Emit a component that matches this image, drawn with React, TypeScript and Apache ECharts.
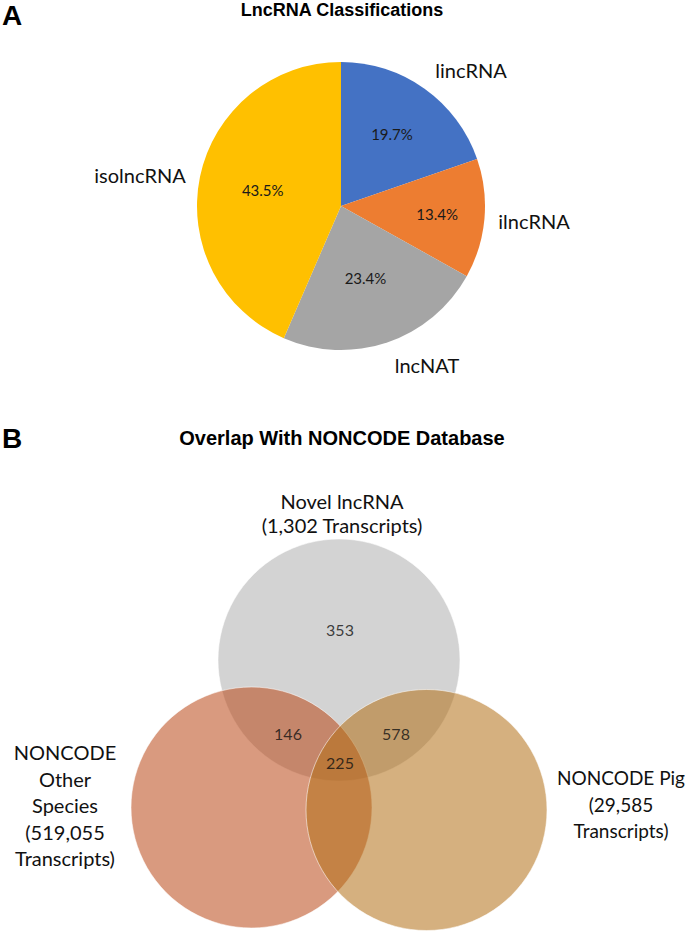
import React, { useEffect, useRef } from "react";
import * as echarts from "echarts";

// ---------- Data ----------
const pieCategories = ["lincRNA", "ilncRNA", "lncNAT", "isolncRNA"];
const piePercents = [19.7, 13.4, 23.4, 43.5];

const vennSetLabels = [
  "Novel lncRNA\n(1,302 Transcripts)",
  "NONCODE\nOther\nSpecies\n(519,055\nTranscripts)",
  "NONCODE Pig\n(29,585\nTranscripts)",
];
const vennRegionNames = ["Novel only", "Novel & Other", "Novel & Pig", "All three"];
const vennRegionCounts = [353, 146, 578, 225];

// ---------- Layout / style ----------
const W = 685;
const H = 931;
const PIE_CX = 341;
const PIE_CY = 206;
const PIE_R = 144;
const pieColors = ["#4472C4", "#ED7D31", "#A5A5A5", "#FFC000"];
const pctRadial = [0.61, 0.67, 0.53, 0.555];
const pieNamePos = [
  [471, 70],
  [534, 221],
  [427, 365],
  [140, 175],
];

// circles in page px units: [cx, cy, r]
const vennCircles = [
  [339, 660, 121],
  [251.5, 807.5, 120.5],
  [426.5, 810, 120.5],
];
const vennFills = [
  "rgba(175,175,175,0.55)",
  "rgba(186,71,22,0.55)",
  "rgba(179,111,22,0.55)",
];
const vennRegionPos = [
  [340, 629],
  [288, 733],
  [396, 733],
  [340, 762],
];
const vennSetLabelPos = [
  [342, 513],
  [65, 805],
  [621, 804],
];

const CAL = "Lato, Carlito, Calibri, 'Open Sans', sans-serif";
const ARIAL = "'Liberation Sans', Arial, sans-serif";

export default function App() {
  const ref = useRef<HTMLDivElement>(null);

  useEffect(() => {
    if (!ref.current) return;
    const chart = echarts.init(ref.current, undefined, { renderer: "svg" });

    // slice mid angles (math convention, degrees) derived from data
    const total = piePercents.reduce((a, b) => a + b, 0);
    let cum = 0;
    const midAngles = piePercents.map((v) => {
      const mid = cum + v / 2;
      cum += v;
      return 90 - (mid / total) * 360;
    });

    const option: any = {
      animation: false,
      backgroundColor: "#ffffff",
      graphic: [
        {
          type: "text",
          x: 2,
          y: 15,
          style: { text: "A", font: `bold 28px ${ARIAL}`, fill: "#000", textVerticalAlign: "middle" },
        },
        {
          type: "text",
          x: 342,
          y: 10,
          style: {
            text: "LncRNA Classifications",
            font: `bold 18px ${ARIAL}`,
            fill: "#000",
            textAlign: "center",
            textVerticalAlign: "middle",
          },
        },
        {
          type: "text",
          x: 2,
          y: 438,
          style: { text: "B", font: `bold 28px ${ARIAL}`, fill: "#000", textVerticalAlign: "middle" },
        },
        {
          type: "text",
          x: 342,
          y: 438,
          style: {
            text: "Overlap With NONCODE Database",
            font: `bold 20px ${ARIAL}`,
            fill: "#000",
            textAlign: "center",
            textVerticalAlign: "middle",
          },
        },
        ...vennSetLabels.map((t, i) => ({
          type: "text",
          x: vennSetLabelPos[i][0],
          y: vennSetLabelPos[i][1],
          style: {
            text: t,
            font: `${i === 2 ? 19 : 20}px ${CAL}`,
            lineHeight: i === 0 ? 24 : 26.5,
            fill: "#111",
            textAlign: "center",
            textVerticalAlign: "middle",
          },
        })),
      ],
      grid: { left: 0, top: 0, width: W, height: H, show: false },
      xAxis: { type: "value", min: 0, max: W, show: false },
      yAxis: { type: "value", min: 0, max: H, inverse: true, show: false },
      series: [
        {
          type: "pie",
          center: [PIE_CX, PIE_CY],
          radius: PIE_R,
          startAngle: 90,
          clockwise: true,
          silent: true,
          data: pieCategories.map((n, i) => ({
            name: n,
            value: piePercents[i],
            itemStyle: { color: pieColors[i] },
          })),
          label: {
            show: true,
            position: "inside",
            formatter: (p: any) => `${Number(p.value).toFixed(1)}%`,
            fontFamily: CAL,
            fontSize: 15,
            color: "#1a1a1a",
          },
          labelLine: { show: false },
          labelLayout: (p: any) => {
            const a = (midAngles[p.dataIndex] * Math.PI) / 180;
            const d = pctRadial[p.dataIndex] * PIE_R;
            return {
              x: PIE_CX + d * Math.cos(a),
              y: PIE_CY - d * Math.sin(a),
              align: "center",
              verticalAlign: "middle",
            };
          },
        },
        {
          type: "pie",
          center: [PIE_CX, PIE_CY],
          radius: PIE_R,
          startAngle: 90,
          clockwise: true,
          silent: true,
          data: pieCategories.map((n, i) => ({
            name: n,
            value: piePercents[i],
            itemStyle: { color: "rgba(0,0,0,0)" },
          })),
          label: {
            show: true,
            position: "outside",
            formatter: "{b}",
            fontFamily: CAL,
            fontSize: 20,
            color: "#111",
          },
          labelLine: { show: false },
          labelLayout: (p: any) => ({
            x: pieNamePos[p.dataIndex][0],
            y: pieNamePos[p.dataIndex][1],
            align: "center",
            verticalAlign: "middle",
          }),
        },
        {
          type: "custom",
          coordinateSystem: "cartesian2d",
          silent: true,
          data: vennCircles.map((c, i) => ({ value: c, itemStyle: { color: vennFills[i] } })),
          renderItem: (params: any, api: any) => {
            const pt = api.coord([api.value(0), api.value(1)]);
            const rr = api.size([api.value(2), 0])[0];
            return {
              type: "circle",
              shape: { cx: pt[0], cy: pt[1], r: rr },
              style: {
                fill: vennFills[params.dataIndex],
                stroke: "rgba(255,255,255,0.55)",
                lineWidth: 1,
              },
            };
          },
        },
        {
          type: "scatter",
          silent: true,
          symbolSize: 0,
          data: vennRegionNames.map((n, i) => ({
            name: n,
            value: [vennRegionPos[i][0], vennRegionPos[i][1], vennRegionCounts[i]],
          })),
          label: {
            show: true,
            position: "inside",
            formatter: (p: any) => String(p.value[2]),
            fontFamily: CAL,
            fontSize: 16,
            color: "#111",
          },
          z: 5,
        },
      ],
    };

    chart.setOption(option);
    return () => chart.dispose();
  }, []);

  return (
    <div
      ref={ref}
      style={{ position: "absolute", left: 0, top: 0, width: W, height: H }}
    />
  );
}
